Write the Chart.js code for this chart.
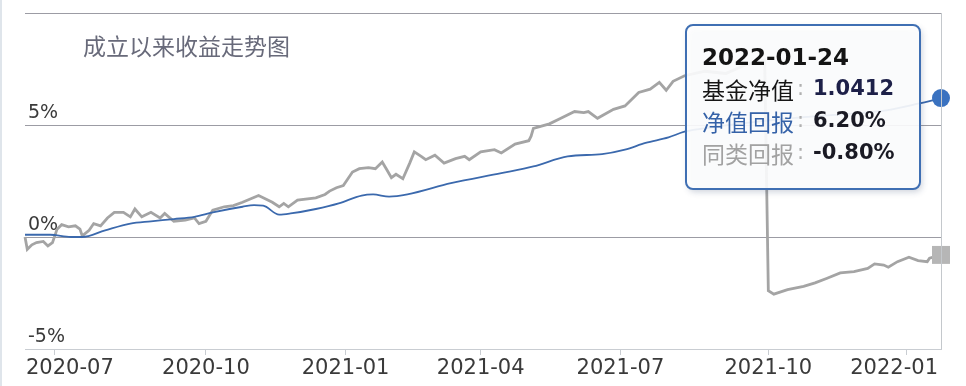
<!DOCTYPE html>
<html>
<head>
<meta charset="utf-8">
<script src="https://cdn.jsdelivr.net/npm/chart.js@4.4.1/dist/chart.umd.min.js"></script>
<style>
  html, body { margin: 0; padding: 0; background: #fff; }
  #wrap { position: relative; width: 966px; height: 386px; }
  #wrap::before { content: ''; position: absolute; left: 0; top: 0; bottom: 0; width: 2px; background: #dfe5eb; }
</style>
</head>
<body>
<div id="wrap"><canvas id="chart" width="966" height="386"></canvas></div>
<script>
// x positions are trading days counted from the fund's start (mid June 2020)
const quarterDays = [13, 79, 140, 199, 260, 324.6, 385];
const quarterLabels = ['2020-07', '2020-10', '2021-01', '2021-04', '2021-07', '2021-10', '2022-01'];

// 净值回报 (%)
const navDays = [0, 11, 20, 25, 35, 46, 55, 65, 74, 82, 95, 100, 104, 111, 116, 127, 137, 147, 152, 159, 167,
    186, 208, 222, 237, 252, 262, 271, 281, 288, 300, 320, 340, 360, 376, 390, 400];
const navReturn = [0.1, 0.1, 0.0, 0.0, 0.3, 0.6, 0.7, 0.8, 0.9, 1.1, 1.35, 1.42, 1.4, 1.0, 1.05, 1.25, 1.5, 1.85, 1.9, 1.8, 1.9,
    2.4, 2.85, 3.15, 3.6, 3.7, 3.9, 4.2, 4.45, 4.7, 4.9, 5.15, 5.35, 5.5, 5.65, 5.95, 6.2];

// 同类回报 (%)
const peerDays = [0, 1, 3, 5, 8, 10, 12, 14, 16, 19, 22, 24, 25, 28, 30, 33, 36, 39, 43, 46, 48, 51, 55, 59, 61, 65, 70, 74, 76, 79,
    82, 87, 91, 95, 102, 108, 111, 113, 115, 119, 127, 131, 133, 136, 139, 143, 146, 150, 153, 156, 158, 160, 162, 165, 168, 170,
    173, 175, 179, 183, 188, 192, 194, 199, 205, 208, 214, 220, 221, 222, 229, 234, 240, 244, 246, 250, 257, 262, 268, 273, 277,
    280, 283, 288, 297, 306, 315, 323, 324.6, 327, 333, 340, 345, 350, 356, 362, 368, 371, 375, 377, 381, 386, 390, 394, 395, 400];
const peerReturn = [0.0, -0.55, -0.35, -0.25, -0.2, -0.4, -0.25, 0.35, 0.55, 0.45, 0.5, 0.35, 0.05, 0.3, 0.6, 0.5, 0.85, 1.1, 1.1, 0.9,
    1.25, 0.9, 1.1, 0.85, 1.05, 0.7, 0.75, 0.85, 0.6, 0.7,
    1.2, 1.35, 1.4, 1.55, 1.85, 1.55, 1.35, 1.5, 1.35, 1.65, 1.75, 1.9, 2.05, 2.2, 2.3, 2.9, 3.05, 3.1, 3.05, 3.35, 3.0, 2.65, 2.8, 2.6, 3.3, 3.8,
    3.6, 3.45, 3.65, 3.3, 3.5, 3.6, 3.45, 3.8, 3.9, 3.75, 4.15, 4.3, 4.5, 4.85, 5.05, 5.3, 5.6, 5.55, 5.6, 5.3, 5.7, 5.85, 6.45, 6.6, 6.9,
    6.55, 6.95, 7.2, 7.4, 7.3, 7.7, 7.9, -2.4, -2.55, -2.35, -2.2, -2.05, -1.85, -1.6, -1.55, -1.4, -1.2, -1.25, -1.35, -1.1, -0.9, -1.05, -1.1, -0.95, -0.8];

const lastDate = '2022-01-24';
const lastNav = 1.0412;

const latin = '"DejaVu Sans", "Noto Sans CJK SC", sans-serif';
const cjk = '"Noto Sans CJK SC", sans-serif';

const toPoints = (xs, ys) => xs.map((x, i) => ({ x: x, y: ys[i] }));
const lastOnly = size => ctx => ctx.dataIndex === ctx.dataset.data.length - 1 ? size : 0;

const extras = {
    id: 'extras',
    afterDraw(chart) {
        const { ctx, chartArea: area, scales: { x } } = chart;
        ctx.save();

        // right frame line
        ctx.strokeStyle = '#c4c8cc';
        ctx.lineWidth = 1;
        ctx.beginPath();
        ctx.moveTo(area.right + 0.5, area.top);
        ctx.lineTo(area.right + 0.5, area.bottom);
        ctx.stroke();

        // x labels, kept inside the plot width
        ctx.font = '21px ' + latin;
        ctx.fillStyle = '#3a3a3a';
        ctx.textBaseline = 'middle';
        ctx.textAlign = 'center';
        quarterDays.forEach((d, i) => {
            const w = ctx.measureText(quarterLabels[i]).width;
            let cx = x.getPixelForValue(d);
            cx = Math.max(area.left + 1 + w / 2, Math.min(area.right - 3 - w / 2, cx));
            ctx.fillText(quarterLabels[i], cx, area.bottom + 20);
        });

        // title
        ctx.textAlign = 'left';
        ctx.font = '23px ' + cjk;
        ctx.fillStyle = '#686a7a';
        ctx.fillText('成立以来收益走势图', 83, 46);

        // tooltip box
        const px = x.getPixelForValue(navDays[navDays.length - 1]);
        const bw = 234, bh = 164;
        const bx = px - 21 - bw, by = area.top + 12;
        ctx.shadowColor = 'rgba(40, 60, 100, 0.25)';
        ctx.shadowBlur = 6;
        ctx.shadowOffsetX = 2;
        ctx.shadowOffsetY = 3;
        ctx.beginPath();
        ctx.roundRect(bx, by, bw, bh, 7);
        ctx.fillStyle = 'rgba(255, 255, 255, 0.9)';
        ctx.fill();
        ctx.shadowColor = 'transparent';
        ctx.lineWidth = 2;
        ctx.strokeStyle = '#3f6fb3';
        ctx.stroke();

        const tx = bx + 16, vx = bx + 127;
        ctx.font = 'bold 23px ' + latin;
        ctx.fillStyle = '#141414';
        ctx.fillText(lastDate, tx, by + 34);

        const rows = [
            ['基金净值', '#161616', lastNav.toFixed(4), '#1d2048'],
            ['净值回报', '#3562a8', navReturn[navReturn.length - 1].toFixed(2) + '%', '#1a1a24'],
            ['同类回报', '#a2a2a2', peerReturn[peerReturn.length - 1].toFixed(2) + '%', '#1a1a24']
        ];
        rows.forEach((r, i) => {
            const ry = by + 65 + i * 32;
            ctx.font = '23px ' + cjk;
            ctx.fillStyle = r[1];
            ctx.fillText(r[0], tx, ry);
            ctx.fillStyle = '#b0b0b0';
            ctx.font = '21px ' + latin;
            ctx.fillText(':', tx + 95, ry);
            ctx.font = 'bold 21px ' + latin;
            ctx.fillStyle = r[3];
            ctx.fillText(r[2], vx, ry);
        });
        ctx.restore();
    }
};

new Chart(document.getElementById('chart'), {
    type: 'line',
    data: {
        datasets: [{
            label: '净值回报',
            data: toPoints(navDays, navReturn),
            borderColor: '#3b69ad',
            borderWidth: 1.8,
            tension: 0.3,
            cubicInterpolationMode: 'monotone',
            pointRadius: lastOnly(9),
            pointBackgroundColor: '#3a72c0',
            pointBorderWidth: 0,
            clip: false,
            order: 0
        }, {
            label: '同类回报',
            data: toPoints(peerDays, peerReturn),
            borderColor: '#a4a4a4',
            borderWidth: 2.8,
            tension: 0,
            pointStyle: 'rect',
            pointRadius: lastOnly(12.7),
            pointBackgroundColor: '#b6b6b6',
            pointBorderWidth: 0,
            clip: false,
            order: 1
        }]
    },
    options: {
        responsive: false,
        animation: false,
        events: [],
        layout: { padding: { left: 19, right: 25, top: 13, bottom: 31 } },
        plugins: { legend: { display: false }, tooltip: { enabled: false } },
        scales: {
            x: {
                type: 'linear',
                min: 0,
                max: 400,
                afterBuildTicks: axis => { axis.ticks = quarterDays.map(v => ({ value: v })); },
                ticks: { display: false },
                grid: { drawOnChartArea: false, drawTicks: true, tickLength: 6, color: '#c9cdd2' },
                border: { color: '#c9cdd2' }
            },
            y: {
                min: -5,
                max: 10,
                ticks: {
                    stepSize: 5,
                    mirror: true,
                    padding: 3,
                    labelOffset: -12,
                    color: '#3a3a3a',
                    font: { family: latin, size: 19, lineHeight: 0.8 },
                    callback: v => v === 10 ? '' : v + '%'
                },
                grid: {
                    drawTicks: false,
                    color: ctx => ctx.tick && ctx.tick.value === -5 ? '#c9cdd2' : '#9c9ca4'
                },
                border: { display: false }
            }
        }
    },
    plugins: [extras]
});
</script>
</body>
</html>
